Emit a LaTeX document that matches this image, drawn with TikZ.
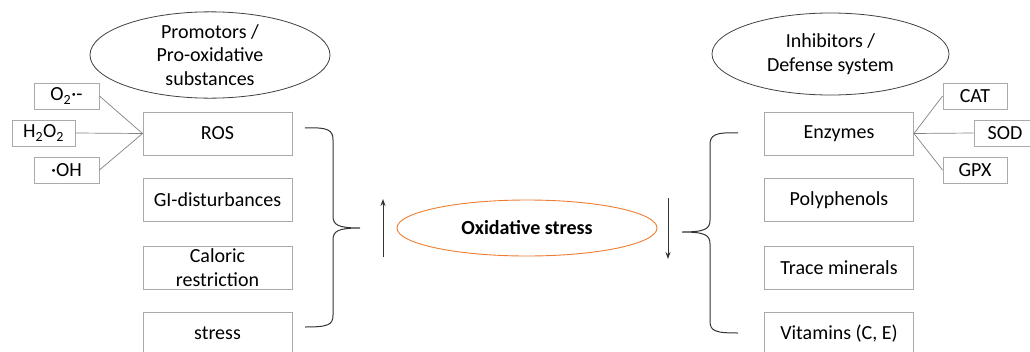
\documentclass[tikz,border=0pt]{standalone}
\usepackage{fontspec}
\setmainfont{Carlito}
\usetikzlibrary{shapes.geometric,arrows.meta}
\definecolor{boxgray}{RGB}{170,170,170}
\definecolor{linegray}{RGB}{130,130,130}
\definecolor{oxorange}{RGB}{237,125,49}
\tikzset{
  txt/.style={font=\fontsize{20}{23.5}\selectfont, text=black},
  bigbox/.style={txt, draw=boxgray, line width=0.9pt, rectangle, minimum width=149pt, minimum height=43pt, inner sep=0pt, align=center},
  smallbox/.style={txt, draw=boxgray, line width=0.9pt, rectangle, minimum width=64pt, minimum height=26pt, inner sep=0pt},
  headell/.style={txt, draw=black!75, line width=0.8pt, ellipse, inner sep=0pt, align=center},
  conn/.style={draw=linegray, line width=0.7pt},
  bracepath/.style={draw=black!80, line width=1pt},
  updown/.style={draw=black!80, line width=1pt, -{Stealth[length=7pt,width=5pt]}}
}
\begin{document}
\begin{tikzpicture}[x=1pt,y=-1pt]
\useasboundingbox (0,0) rectangle (1030,351);
\begin{scope}
\clip (0,0) rectangle (1030,351);
% headers
\node[headell, minimum width=240pt, minimum height=80pt] (prom) at (210,55) {Promotors /\\Pro-oxidative\\substances};
\node[headell, minimum width=237pt, minimum height=82pt] (inh) at (830.5,54) {Inhibitors /\\Defense system};
% left boxes
\node[bigbox] (ros) at (217.5,133.5) {ROS};
\node[bigbox] (gi) at (217.5,200) {GI-disturbances};
\node[bigbox] (cal) at (217.5,267.5) {Caloric\\restriction};
\node[bigbox] (str) at (217.5,333.5) {stress};
% right boxes
\node[bigbox] (enz) at (839,133.5) {Enzymes};
\node[bigbox] (poly) at (839,200) {Polyphenols};
\node[bigbox] (trace) at (839,267.5) {Trace minerals};
\node[bigbox] (vit) at (839,333.5) {Vitamins (C, E)};
% small boxes
\node[smallbox, minimum width=65pt] (o2) at (66.5,96) {O\textsubscript{2}·-};
\node[smallbox, minimum width=63pt] (h2o2) at (43.5,133) {H\textsubscript{2}O\textsubscript{2}};
\node[smallbox, minimum width=65pt] (oh) at (66.5,170) {·OH};
\node[smallbox] (cat) at (975,96) {CAT};
\node[smallbox, minimum width=62pt] (sod) at (1005,133) {SOD};
\node[smallbox] (gpx) at (975,170) {GPX};
% connectors
\draw[conn] (o2.east) -- (ros.west);
\draw[conn] (h2o2.east) -- (ros.west);
\draw[conn] (oh.east) -- (ros.west);
\draw[conn] (enz.east) -- (cat.west);
\draw[conn] (enz.east) -- (sod.west);
\draw[conn] (enz.east) -- (gpx.west);
% central ellipse
\node[txt, draw=oxorange, line width=0.9pt, ellipse, minimum width=260pt, minimum height=56pt, inner sep=0pt, font=\fontsize{20}{23.5}\selectfont\bfseries] (ox) at (527,228) {Oxidative stress};
% braces
\coordinate (lbt) at (305,128);
\coordinate (lbb) at (305,327);
\coordinate (lbtip) at (360,228);
\draw[bracepath] (lbt) .. controls (328,127) and (333,130) .. (333,140) -- (333,216)
  .. controls (333,225) and (338,228) .. (lbtip)
  .. controls (338,228) and (333,231) .. (333,240) -- (333,315)
  .. controls (333,325) and (328,327) .. (lbb);
\coordinate (rbt) at (738,133);
\coordinate (rbb) at (738,333);
\coordinate (rbtip) at (682,232);
\draw[bracepath] (rbt) .. controls (715,132) and (710,135) .. (710,145) -- (710,220)
  .. controls (710,229) and (705,232) .. (rbtip)
  .. controls (705,232) and (710,235) .. (710,244) -- (710,321)
  .. controls (710,331) and (715,333) .. (rbb);
% arrows
\coordinate (ua1) at (383,257);
\coordinate (ua2) at (383,199);
\draw[updown] (ua1) -- (ua2);
\coordinate (da1) at (668,198);
\coordinate (da2) at (668,259);
\draw[updown] (da1) -- (da2);
\end{scope}
\end{tikzpicture}
\end{document}
